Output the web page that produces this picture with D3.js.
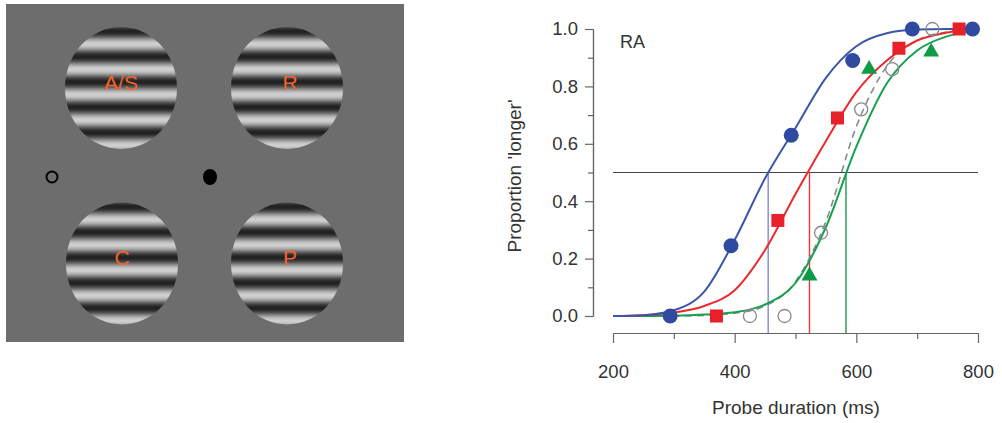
<!DOCTYPE html>
<html>
<head>
<meta charset="utf-8">
<script src="https://cdn.jsdelivr.net/npm/d3@7"></script>
<style>
body { margin: 0; background: #fff; }
text { font-family: Arial, "Liberation Sans", Helvetica, sans-serif; }
</style>
</head>
<body>
<script>
var w = 1002;
var h = 423;

// stimulus panel
var stimLabels = ["A/S", "R", "C", "P"];
var stimCx = [121, 287, 122, 287];
var stimCy = [88, 88, 263.5, 263.5];

// psychometric data (RA)
var blueX = [294, 394, 493, 594, 692, 791];
var blueY = [0.0, 0.245, 0.63, 0.89, 1.0, 1.0];
var redX = [370, 471, 569, 670, 769];
var redY = [0.0, 0.333, 0.69, 0.933, 1.0];
var greenX = [523, 621, 723];
var greenY = [0.14, 0.86, 0.92];
var openX = [425, 482, 542, 608, 659, 725];
var openY = [0.0, 0.0, 0.29, 0.72, 0.86, 1.0];

// fitted curves, every 50 ms
var fitX = [200, 250, 300, 350, 400, 450, 500, 550, 600, 650, 700, 750, 800];
var blueFit = [0, 0.003, 0.02, 0.085, 0.265, 0.48, 0.655, 0.83, 0.94, 0.985, 0.998, 1.0, 1.0];
var redFit = [0, 0.003, 0.012, 0.035, 0.09, 0.23, 0.425, 0.61, 0.78, 0.89, 0.96, 0.988, 1.0];
var greenFit = [0, 0, 0.001, 0.005, 0.013, 0.04, 0.115, 0.31, 0.59, 0.81, 0.925, 0.975, 0.995];
var grayFit = [0, 0, 0, 0.002, 0.01, 0.035, 0.12, 0.33, 0.66, 0.87, 0.96, 0.99, 1.0];

var pseX = [455, 523, 583];
var pseColor = ["#4a5db5", "#e8383c", "#1c9a4e"];

var xTicks = [200, 400, 600, 800];
var xMinor = [300, 500, 700];
var yTicks = [0, 0.2, 0.4, 0.6, 0.8, 1.0];
var yMinor = [0.1, 0.3, 0.5, 0.7, 0.9];

var svg = d3.select("body")
    .append("svg")
    .attr("width", w)
    .attr("height", h);

svg.append("rect")
    .attr("width", w)
    .attr("height", h)
    .attr("fill", "#fff");

// ---- left panel ----
svg.append("rect")
    .attr("x", 6)
    .attr("y", 4)
    .attr("width", 398)
    .attr("height", 338)
    .attr("fill", "#6d6d6d");

var defs = svg.append("defs");
var period = 25.3;
var dark = d3.rgb(32, 32, 32), light = d3.rgb(208, 208, 208);
stimCy.forEach(function (cy, i) {
    var g = defs.append("linearGradient")
        .attr("id", "grating" + i)
        .attr("gradientUnits", "userSpaceOnUse")
        .attr("spreadMethod", "repeat")
        .attr("x1", 0).attr("x2", 0)
        .attr("y1", cy - 6)
        .attr("y2", cy - 6 + period);
    d3.range(0, 1.0001, 0.0625).forEach(function (t) {
        var v = 0.5 - 0.5 * Math.cos(2 * Math.PI * t);
        g.append("stop")
            .attr("offset", t)
            .attr("stop-color", d3.interpolateRgb(dark, light)(v));
    });
});

svg.selectAll("ellipse.stim")
    .data(stimLabels)
    .enter()
    .append("ellipse")
    .attr("class", "stim")
    .attr("cx", function (d, i) { return stimCx[i]; })
    .attr("cy", function (d, i) { return stimCy[i]; })
    .attr("rx", 56)
    .attr("ry", 61)
    .attr("fill", function (d, i) { return "url(#grating" + i + ")"; });

svg.selectAll("text.stim")
    .data(stimLabels)
    .enter()
    .append("text")
    .attr("class", "stim")
    .text(function (d) { return d; })
    .attr("x", function (d, i) { return stimCx[i] + (i % 2 ? 3 : 0); })
    .attr("y", function (d, i) { return stimCy[i] - 6; })
    .attr("dy", "0.36em")
    .attr("text-anchor", "middle")
    .attr("font-size", 21)
    .attr("fill", "#f2622a");

svg.append("circle")
    .attr("cx", 52)
    .attr("cy", 177)
    .attr("r", 5.5)
    .attr("fill", "none")
    .attr("stroke", "#000")
    .attr("stroke-width", 2);

svg.append("ellipse")
    .attr("cx", 210)
    .attr("cy", 177)
    .attr("rx", 7)
    .attr("ry", 8)
    .attr("fill", "#000");

// ---- right panel ----
var x = d3.scaleLinear().domain([200, 800]).range([613, 978]);
var y = d3.scaleLinear().domain([0, 1]).range([316, 29]);

svg.append("g")
    .attr("transform", "translate(593,0)")
    .call(d3.axisLeft(y).tickValues(yTicks).tickFormat(d3.format(".1f"))
        .tickSize(8).tickSizeOuter(0).tickPadding(7));
svg.append("g")
    .attr("transform", "translate(593,0)")
    .call(d3.axisLeft(y).tickValues(yMinor).tickFormat("").tickSize(5).tickSizeOuter(0));

svg.append("g")
    .attr("transform", "translate(0,333)")
    .call(d3.axisBottom(x).tickValues(xTicks).tickFormat(d3.format("d"))
        .tickSize(10).tickSizeOuter(0).tickPadding(22));
svg.append("g")
    .attr("transform", "translate(0,333)")
    .call(d3.axisBottom(x).tickValues(xMinor).tickFormat("").tickSize(6).tickSizeOuter(0));

svg.selectAll(".domain, .tick line")
    .attr("stroke", "#666")
    .attr("stroke-width", 1.2);
svg.selectAll(".tick text")
    .attr("font-size", 18.5)
    .attr("fill", "#333")
    .attr("font-family", "Arial, 'Liberation Sans', sans-serif");

svg.append("text")
    .text("Probe duration (ms)")
    .attr("x", 796)
    .attr("y", 414)
    .attr("text-anchor", "middle")
    .attr("font-size", 19)
    .attr("fill", "#333");

svg.append("text")
    .text("Proportion 'longer'")
    .attr("transform", "translate(521,176) rotate(-90)")
    .attr("text-anchor", "middle")
    .attr("font-size", 19)
    .attr("fill", "#333");

svg.append("text")
    .text("RA")
    .attr("x", 620)
    .attr("y", 48)
    .attr("font-size", 18)
    .attr("fill", "#333");

// 0.5 criterion line and PSE drop lines
svg.append("line")
    .attr("x1", x(200)).attr("x2", x(800))
    .attr("y1", y(0.5)).attr("y2", y(0.5))
    .attr("stroke", "#444")
    .attr("stroke-width", 1.2);

svg.selectAll("line.pse")
    .data(pseX)
    .enter()
    .append("line")
    .attr("class", "pse")
    .attr("x1", function (d) { return x(d); })
    .attr("x2", function (d) { return x(d); })
    .attr("y1", y(0.5))
    .attr("y2", 333)
    .attr("stroke", function (d, i) { return pseColor[i]; })
    .attr("stroke-width", function (d, i) { return i == 0 ? 1 : 1.4; });

var line = d3.line()
    .x(function (d, i) { return x(fitX[i]); })
    .y(function (d) { return y(d); })
    .curve(d3.curveMonotoneX);

svg.append("path").datum(grayFit).attr("d", line)
    .attr("fill", "none").attr("stroke", "#8a8a8a")
    .attr("stroke-width", 1.6).attr("stroke-dasharray", "7,5");
svg.append("path").datum(greenFit).attr("d", line)
    .attr("fill", "none").attr("stroke", "#16a050").attr("stroke-width", 2);
svg.append("path").datum(redFit).attr("d", line)
    .attr("fill", "none").attr("stroke", "#ea2a2e").attr("stroke-width", 2);
svg.append("path").datum(blueFit).attr("d", line)
    .attr("fill", "none").attr("stroke", "#3a55aa").attr("stroke-width", 2);

// markers
svg.selectAll("circle.open")
    .data(openX)
    .enter()
    .append("circle")
    .attr("class", "open")
    .attr("cx", function (d) { return x(d); })
    .attr("cy", function (d, i) { return y(openY[i]); })
    .attr("r", 6.5)
    .attr("fill", "none")
    .attr("stroke", "#8a8a8a")
    .attr("stroke-width", 1.3);

var tri = d3.symbol().type(d3.symbolTriangle).size(110);
svg.selectAll("path.tri")
    .data(greenX)
    .enter()
    .append("path")
    .attr("class", "tri")
    .attr("d", tri)
    .attr("transform", function (d, i) {
        return "translate(" + x(d) + "," + y(greenY[i]) + ")";
    })
    .attr("fill", "#0f9a46");

svg.selectAll("rect.sq")
    .data(redX)
    .enter()
    .append("rect")
    .attr("class", "sq")
    .attr("x", function (d) { return x(d) - 6.5; })
    .attr("y", function (d, i) { return y(redY[i]) - 6.5; })
    .attr("width", 13)
    .attr("height", 13)
    .attr("fill", "#e8202a");

svg.selectAll("circle.blue")
    .data(blueX)
    .enter()
    .append("circle")
    .attr("class", "blue")
    .attr("cx", function (d) { return x(d); })
    .attr("cy", function (d, i) { return y(blueY[i]); })
    .attr("r", 7.5)
    .attr("fill", "#2f4aa0");
</script>
</body>
</html>
